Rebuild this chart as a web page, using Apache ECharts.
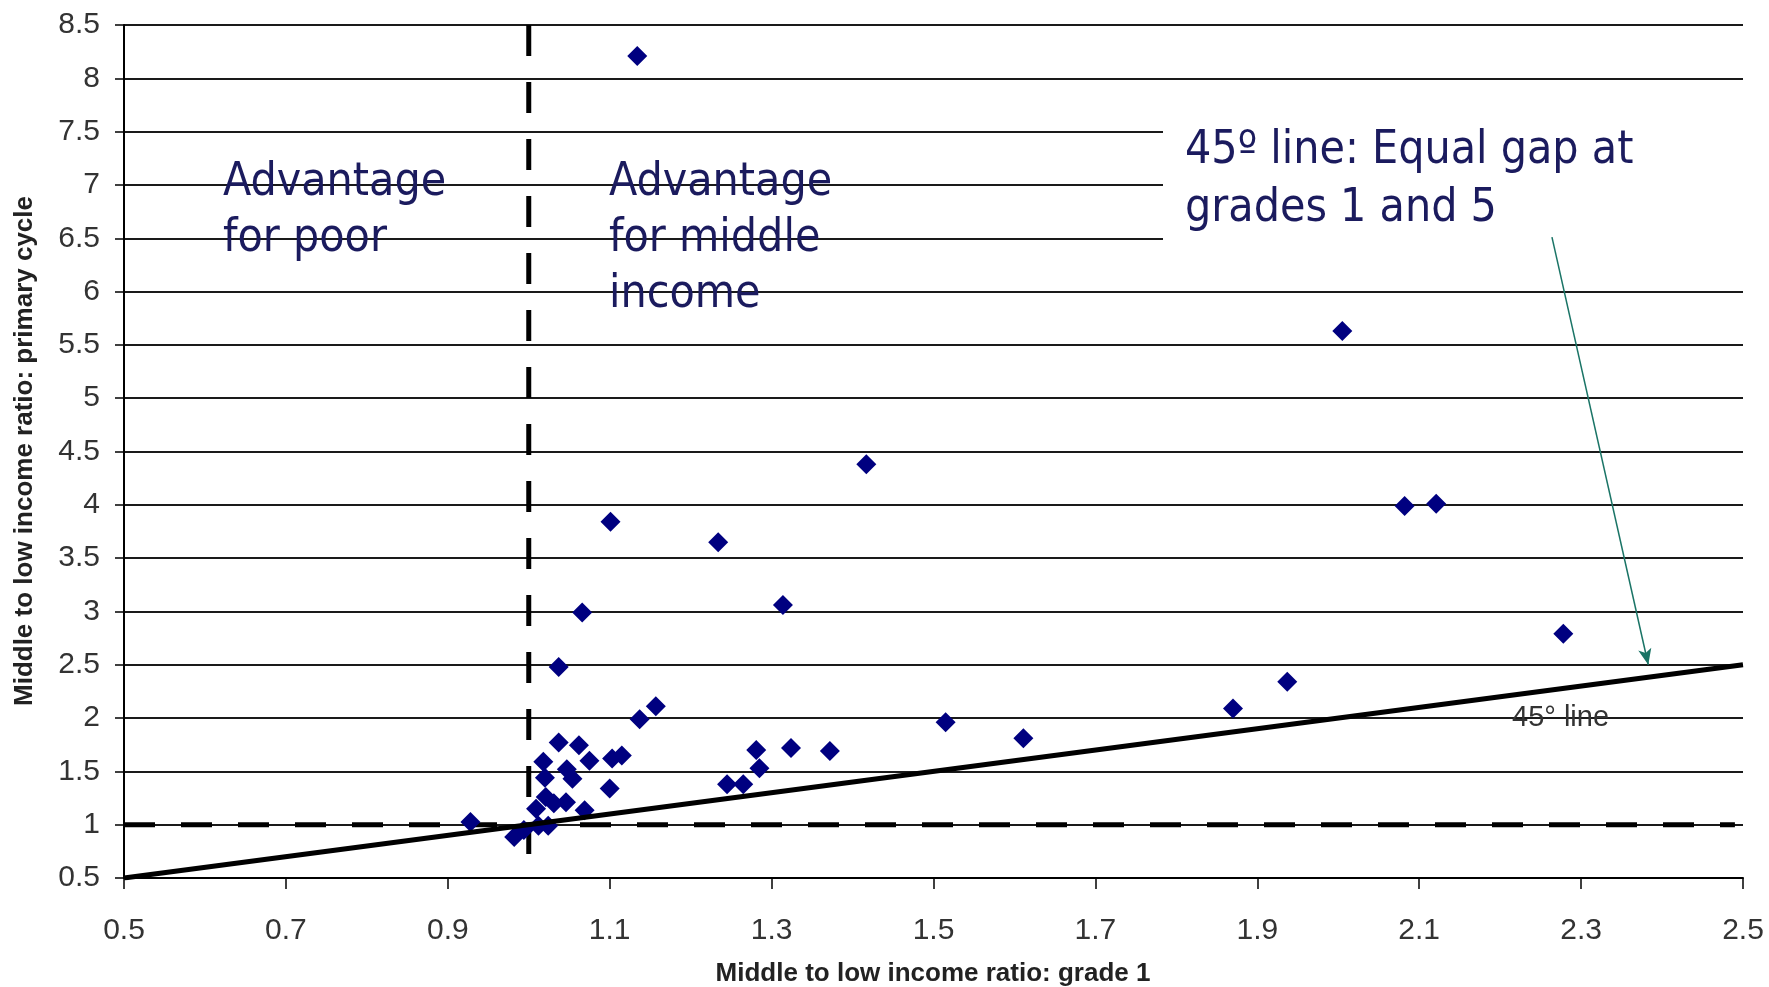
<!DOCTYPE html>
<html>
<head>
<meta charset="utf-8">
<script src="https://cdn.jsdelivr.net/npm/echarts@6/dist/echarts.min.js"></script>
<style>
html, body { margin: 0; padding: 0; background: #fff; }
#scatterChart { width: 1769px; height: 987px; }
</style>
</head>
<body>
<div id="scatterChart"></div>
<script>
// middle to low income ratio, grade 1 (x) vs primary cycle (y)
var gradeOneRatio = [
    1.134, 2.005, 1.417, 2.082, 2.121, 1.101, 1.234, 1.314, 1.066, 1.037,
    2.278, 1.937, 1.870, 1.157, 1.137, 1.515, 1.611, 1.324, 1.372, 1.281,
    1.285, 1.245, 1.265, 1.100, 1.103, 1.115, 1.075, 1.062, 1.037, 1.018,
    1.020, 1.047, 1.054, 1.021, 1.031, 1.046, 1.069, 1.009, 1.012, 1.024,
    0.928, 0.982, 0.994
];
var primaryCycleRatio = [
    8.21, 5.63, 4.38, 3.99, 4.01, 3.84, 3.65, 3.06, 2.99, 2.48,
    2.79, 2.34, 2.09, 2.11, 1.99, 1.96, 1.81, 1.72, 1.69, 1.70,
    1.53, 1.38, 1.38, 1.34, 1.62, 1.65, 1.60, 1.745, 1.77, 1.59,
    1.44, 1.52, 1.43, 1.26, 1.20, 1.21, 1.135, 1.15, 0.99, 0.99,
    1.025, 0.885, 0.95
];

// reference lines
var diagonalX = [0.5, 2.5], diagonalY = [0.5, 2.5];
var parityGradeX = [1, 1], parityGradeY = [8.5, 0.5];
var parityPrimaryX = [0.5, 2.49], parityPrimaryY = [1, 1];
var arrowFrom = [2.264, 6.51], arrowTo = [2.383, 2.5];

// axis ranges and titles
var xMin = 0.5, xMax = 2.5, xStep = 0.2;
var yMin = 0.5, yMax = 8.5, yStep = 0.5;
var xTitle = 'Middle to low income ratio: grade 1';
var yTitle = 'Middle to low income ratio: primary cycle';

function pairs(xs, ys) {
    return xs.map(function (x, i) { return [x, ys[i]]; });
}

var chart = echarts.init(document.getElementById('scatterChart'));

var navyText = '#1b1b5e';
var bigFont = '46px "DejaVu Sans Condensed", "DejaVu Sans", sans-serif';
var titleFont = 'bold 26px "Liberation Sans", Arial, sans-serif';

var option = {
    animation: false,
    backgroundColor: '#fff',
    grid: { left: 124, right: 26, top: 25, bottom: 109 },
    xAxis: {
        type: 'value',
        min: xMin, max: xMax, interval: xStep,
        axisLine: { lineStyle: { color: '#000', width: 2 } },
        axisTick: { length: 11, lineStyle: { color: '#000', width: 1.5 } },
        axisLabel: {
            margin: 38, fontSize: 30, color: '#333', fontFamily: 'Liberation Sans',
            formatter: function (v) { return v.toFixed(1); }
        },
        splitLine: { show: false }
    },
    yAxis: {
        type: 'value',
        min: yMin, max: yMax, interval: yStep,
        axisLine: { show: true, lineStyle: { color: '#000', width: 2 } },
        axisTick: { show: true, length: 9, lineStyle: { color: '#000', width: 1.5 } },
        axisLabel: { margin: 24, fontSize: 30, color: '#333', fontFamily: 'Liberation Sans' },
        splitLine: { lineStyle: { color: '#1a1a1a', width: 2 } }
    },
    series: [
        {
            type: 'line',
            data: pairs(parityGradeX, parityGradeY),
            symbol: 'none',
            z: 2,
            lineStyle: { color: '#000', width: 5, type: [31, 26] }
        },
        {
            type: 'line',
            data: pairs(parityPrimaryX, parityPrimaryY),
            symbol: 'none',
            z: 2,
            lineStyle: { color: '#000', width: 5, type: [31, 26] }
        },
        {
            type: 'scatter',
            data: pairs(gradeOneRatio, primaryCycleRatio),
            symbol: 'diamond',
            symbolSize: 20,
            z: 3,
            itemStyle: { color: '#000080', opacity: 1 }
        },
        {
            type: 'line',
            data: pairs(diagonalX, diagonalY),
            symbol: 'none',
            z: 4,
            lineStyle: { color: '#000', width: 5 },
            markLine: {
                silent: true,
                symbol: ['none', 'arrow'],
                symbolSize: [10, 16],
                label: { show: false },
                lineStyle: { color: '#1a7466', width: 1.5, type: 'solid' },
                data: [[{ coord: arrowFrom }, { coord: arrowTo }]]
            }
        }
    ],
    graphic: [
        {
            type: 'rect', z: 1,
            shape: { x: 1163, y: 92, width: 606, height: 186 },
            style: { fill: '#fff' }
        },
        {
            type: 'text', left: 223, top: 155, z: 100,
            style: { text: 'Advantage\nfor poor', font: bigFont, lineHeight: 56, fill: navyText }
        },
        {
            type: 'text', left: 609, top: 155, z: 100,
            style: { text: 'Advantage\nfor middle\nincome', font: bigFont, lineHeight: 56, fill: navyText }
        },
        {
            type: 'text', left: 1185, top: 122, z: 100,
            style: { text: '45º line: Equal gap at\ngrades 1 and 5', font: bigFont, lineHeight: 58, fill: navyText }
        },
        {
            type: 'text', left: 1512, top: 703, z: 100,
            style: { text: '45° line', font: '29px "Liberation Sans", sans-serif', fill: '#333' }
        },
        {
            type: 'text', x: 933, y: 974, z: 100,
            style: { text: xTitle, font: titleFont, fill: '#222', align: 'center', verticalAlign: 'middle' }
        },
        {
            type: 'text', x: 25, y: 451, rotation: Math.PI / 2, z: 100,
            style: { text: yTitle, font: titleFont, fill: '#222', align: 'center', verticalAlign: 'middle' }
        }
    ]
};

chart.setOption(option);
</script>
</body>
</html>
